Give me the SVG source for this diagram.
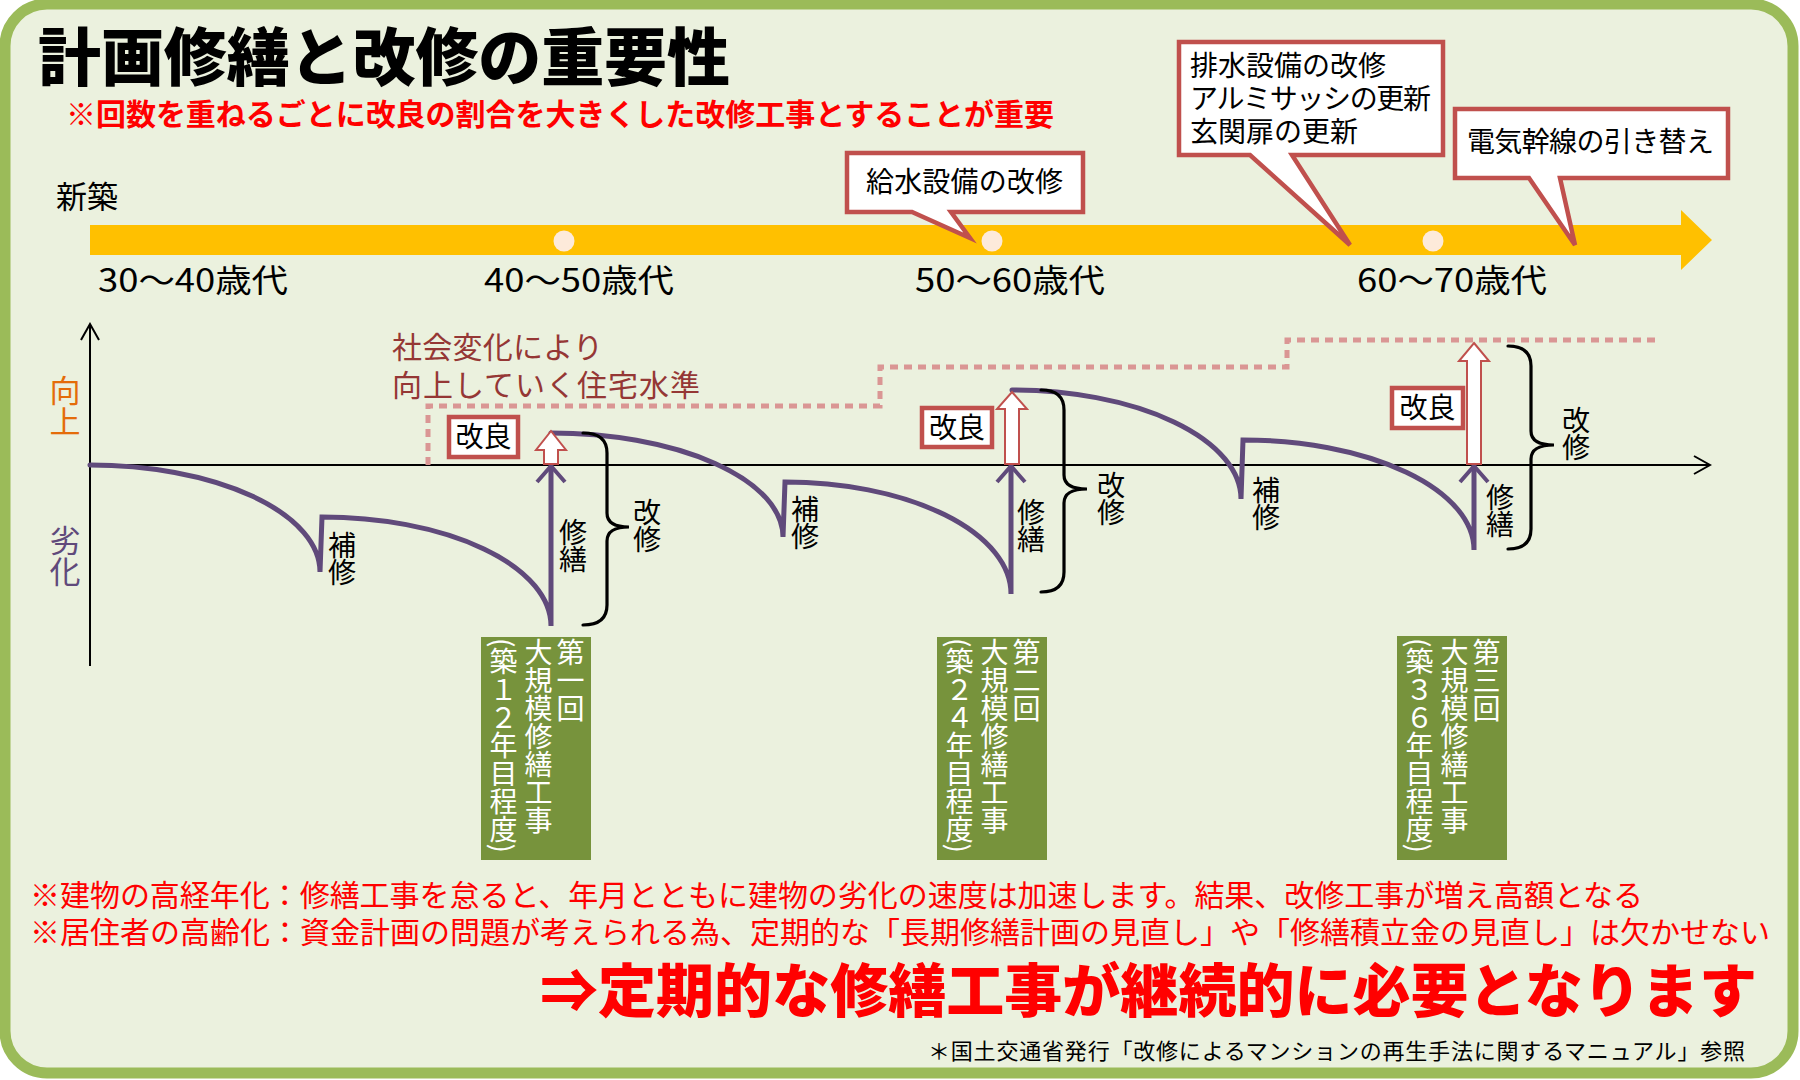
<svg xmlns="http://www.w3.org/2000/svg" width="1800" height="1080" viewBox="0 0 1800 1080">
<style>
text{font-family:'Noto Sans CJK JP','Noto Sans CJK SC',sans-serif;}
.curve{fill:none;stroke:#604A7B;stroke-width:5;stroke-linecap:round;}
.brace{fill:none;stroke:#000;stroke-width:3.2;stroke-linecap:round;}
.callout{fill:#fff;stroke:#C0504D;stroke-width:4.5;}
.cal{font-size:28px;fill:#000;}
.lbl{font-size:28px;fill:#000;text-anchor:middle;}
.vl{font-size:28px;fill:#000;writing-mode:vertical-rl;letter-spacing:-1px;}
.kaizen{fill:#fff;stroke:#C0504D;stroke-width:4.5;}
.warr{fill:#fff;stroke:#C0504D;stroke-width:2;}
.green{fill:#77933C;}
.vt{font-size:28px;fill:#fff;writing-mode:vertical-rl;}
.age{font-size:32px;fill:#000;}
.red{fill:#FF0000;}
</style>
<defs>
<marker id="chev" markerWidth="20" markerHeight="20" refX="18" refY="10" orient="auto" markerUnits="userSpaceOnUse">
<path d="M2,1 L18,10 L2,19" fill="none" stroke="#000" stroke-width="2"/>
</marker>
</defs>
<rect x="5" y="4" width="1788" height="1069" rx="42" fill="#EBF1DE" stroke="#9BBB59" stroke-width="11"/>
<g id="title">
<text x="38" y="80" font-size="63" font-weight="900" fill="#000" textLength="692">計画修繕と改修の重要性</text>
<text x="66" y="125" font-size="30" font-weight="700" class="red" textLength="988">※回数を重ねるごとに改良の割合を大きくした改修工事とすることが重要</text>
</g>
<g id="timeline">
<text x="56" y="208" font-size="31" fill="#000">新築</text>
<path d="M90,225 H1681 V210 L1712,240 L1681,270 V255 H90 Z" fill="#FFC000"/>
<ellipse cx="564" cy="241" rx="10.5" ry="10.5" fill="#FDEADA"/>
<ellipse cx="992" cy="241" rx="10.5" ry="10.5" fill="#FDEADA"/>
<ellipse cx="1433" cy="241" rx="10.5" ry="10.5" fill="#FDEADA"/>
<text class="age" x="98" y="292" textLength="190" lengthAdjust="spacingAndGlyphs">30～40歳代</text>
<text class="age" x="484" y="292" textLength="190" lengthAdjust="spacingAndGlyphs">40～50歳代</text>
<text class="age" x="915" y="292" textLength="190" lengthAdjust="spacingAndGlyphs">50～60歳代</text>
<text class="age" x="1357" y="292" textLength="190" lengthAdjust="spacingAndGlyphs">60～70歳代</text>
</g>
<g id="callout1">
<path class="callout" d="M847,153 H1083 V212 H951 L970,238 L912,212 H847 Z"/>
<text class="cal" x="866" y="192" textLength="197">給水設備の改修</text>
</g>
<g id="callout2">
<path class="callout" d="M1179,42 H1443 V155 H1292 L1350,245 L1250,155 H1179 Z"/>
<text class="cal"><tspan x="1190" y="76">排水設備の改修</tspan><tspan x="1190" y="109" textLength="241">アルミサッシの更新</tspan><tspan x="1190" y="142">玄関扉の更新</tspan></text>
</g>
<g id="callout3">
<path class="callout" d="M1455,109 H1728 V178 H1560 L1575,245 L1529,178 H1455 Z"/>
<text class="cal" x="1467" y="152" textLength="247">電気幹線の引き替え</text>
</g>
<g id="axes">
<line x1="90" y1="666" x2="90" y2="324" stroke="#000" stroke-width="2" marker-end="url(#chev)"/>
<line x1="90" y1="465" x2="1710" y2="465" stroke="#000" stroke-width="2" marker-end="url(#chev)"/>
<text x="65" y="375" font-size="31" fill="#E46C0A" style="writing-mode:vertical-rl">向上</text>
<text x="65" y="525" font-size="31" fill="#604A7B" style="writing-mode:vertical-rl">劣化</text>
</g>
<g id="standard">
<path d="M428,465 V406 H880 V367 H1287 V340 H1661" fill="none" stroke="#DA9694" stroke-width="5" stroke-dasharray="8 6"/>
<text font-size="30" fill="#953735"><tspan x="392" y="358" textLength="211">社会変化により</tspan><tspan x="392" y="396" textLength="308">向上していく住宅水準</tspan></text>
</g>
<g id="connectors">
<path class="curve" d="M90,465 A230,107 0 0 1 320,572 L322,517 A229,109 0 0 1 551,626 L551,465"/>
<path class="curve" d="M551,433 A232,104 0 0 1 783,537 L785,482 A226,112 0 0 1 1011,594 L1011,465"/>
<path class="curve" d="M1012,390 A229,109 0 0 1 1241,499 L1243,440 A231,110 0 0 1 1474,550 L1474,465"/>
<path d="M537,482 L551,466 L565,482" fill="none" stroke="#604A7B" stroke-width="4"/>
<path d="M997,482 L1011,466 L1025,482" fill="none" stroke="#604A7B" stroke-width="4"/>
<path d="M1460,482 L1474,466 L1488,482" fill="none" stroke="#604A7B" stroke-width="4"/>
<polygon class="warr" points="551,431 566,450 558,450 558,464 544,464 544,450 536,450"/>
<polygon class="warr" points="1012,392 1027,409 1019,409 1019,464 1005,464 1005,409 997,409"/>
<polygon class="warr" points="1474,343 1489,361 1481,361 1481,464 1467,464 1467,361 1459,361"/>
<path class="brace" d="M583,433 Q607,433 607,453 L607,513 Q607,527 629,527 Q607,527 607,541 L607,605 Q607,625 583,625"/>
<path class="brace" d="M1041,390 Q1064,390 1064,410 L1064,475 Q1064,489 1087,489 Q1064,489 1064,503 L1064,572 Q1064,592 1041,592"/>
<path class="brace" d="M1508,346 Q1531,346 1531,366 L1531,431 Q1531,445 1554,445 Q1531,445 1531,459 L1531,529 Q1531,549 1508,549"/>
</g>
<g id="labels">
<text class="vl" x="342" y="531">補修</text>
<text class="vl" x="573" y="518">修繕</text>
<text class="vl" x="647" y="498">改修</text>
<text class="vl" x="805" y="495">補修</text>
<text class="vl" x="1031" y="498">修繕</text>
<text class="vl" x="1111" y="471">改修</text>
<text class="vl" x="1266" y="476">補修</text>
<text class="vl" x="1500" y="483">修繕</text>
<text class="vl" x="1576" y="406">改修</text>
</g>
<g id="kairyo1">
<rect class="kaizen" x="449" y="417" width="69" height="40"/>
<text class="lbl" x="483.5" y="447">改良</text>
</g>
<g id="kairyo2">
<rect class="kaizen" x="922" y="408" width="70" height="39"/>
<text class="lbl" x="957" y="438">改良</text>
</g>
<g id="kairyo3">
<rect class="kaizen" x="1392" y="388" width="71" height="40"/>
<text class="lbl" x="1427.5" y="418">改良</text>
</g>
<g id="work1">
<rect class="green" x="481" y="637" width="110" height="223"/>
<text class="vt"><tspan x="570.5" y="638">第一回</tspan><tspan x="538.5" y="638">大規模修繕工事</tspan><tspan x="503.5" y="638">(築１２年目程度)</tspan></text>
</g>
<g id="work2">
<rect class="green" x="937" y="637" width="110" height="223"/>
<text class="vt"><tspan x="1026.5" y="638">第二回</tspan><tspan x="994.5" y="638">大規模修繕工事</tspan><tspan x="959.5" y="638">(築２４年目程度)</tspan></text>
</g>
<g id="work3">
<rect class="green" x="1397" y="636" width="110" height="224"/>
<text class="vt"><tspan x="1486.5" y="638">第三回</tspan><tspan x="1454.5" y="638">大規模修繕工事</tspan><tspan x="1419.5" y="638">(築３６年目程度)</tspan></text>
</g>
<g id="notes">
<text class="red" font-size="30"><tspan x="30" y="906" textLength="1613">※建物の高経年化：修繕工事を怠ると、年月とともに建物の劣化の速度は加速します。結果、改修工事が増え高額となる</tspan><tspan x="30" y="943" textLength="1740">※居住者の高齢化：資金計画の問題が考えられる為、定期的な「長期修繕計画の見直し」や「修繕積立金の見直し」は欠かせない</tspan></text>
<text class="red" x="540" y="1012" font-size="58" font-weight="900" textLength="1217">⇒定期的な修繕工事が継続的に必要となります</text>
<text x="928" y="1059" font-size="22" fill="#000" textLength="817">＊国土交通省発行「改修によるマンションの再生手法に関するマニュアル」参照</text>
</g>
</svg>
